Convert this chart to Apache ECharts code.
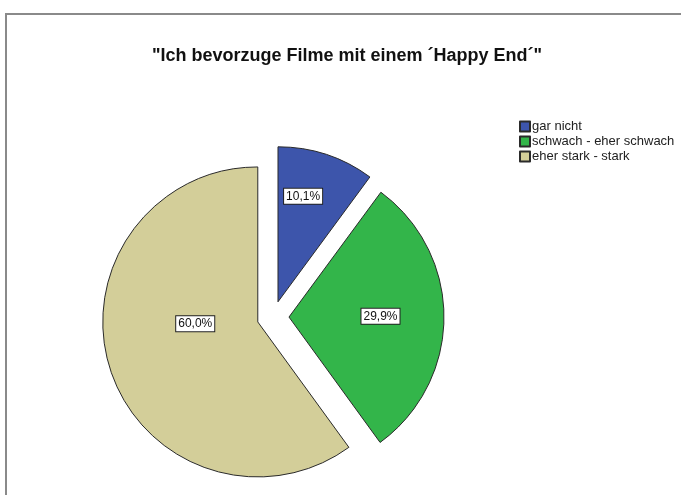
<!DOCTYPE html>
<html>
<head>
<meta charset="utf-8">
<script src="https://cdn.jsdelivr.net/npm/echarts@6/dist/echarts.min.js"></script>
<style>
  html, body { margin: 0; padding: 0; background: #fff; }
  #chart { width: 681px; height: 495px; }
</style>
</head>
<body>
<div id="chart"></div>
<script>
// Answer categories and their shares (percent)
const categories = ['gar nicht', 'schwach - eher schwach', 'eher stark - stark'];
const shares = [10.1, 29.9, 60.0];
const sliceColors = ['#3d55ab', '#33b54a', '#d3ce99'];

// Small nudges of the percentage boxes away from the default inside spot
const labelNudge = [[0, -29], [11, -1], [14, -23]];

const chart = echarts.init(document.getElementById('chart'));

const pieData = categories.map((name, i) => ({
  name: name,
  value: shares[i],
  selected: true,
  itemStyle: { color: sliceColors[i] }
}));

chart.setOption({
  animation: false,
  backgroundColor: '#ffffff',
  title: {
    text: '"Ich bevorzuge Filme mit einem \u00b4Happy End\u00b4"',
    left: 147,
    top: 42,
    textStyle: {
      fontFamily: 'Liberation Sans, Arial, sans-serif',
      fontSize: 18,
      fontWeight: 'bold',
      color: '#111'
    }
  },
  legend: {
    orient: 'vertical',
    left: 514,
    top: 115,
    itemWidth: 10,
    itemHeight: 10,
    itemGap: 2,
    icon: 'rect',
    selectedMode: false,
    textStyle: {
      fontFamily: 'Liberation Sans, Arial, sans-serif',
      fontSize: 13,
      color: '#222',
      padding: [0, 0, 0, -3]
    },
    data: categories
  },
  graphic: [{
    type: 'rect',
    shape: { x: 6, y: 14, width: 720, height: 520 },
    style: { fill: 'none', stroke: '#8a8a8a', lineWidth: 2 },
    silent: true
  }],
  series: [{
    type: 'pie',
    center: [273, 317],
    radius: [0, 155],
    startAngle: 90,
    clockwise: true,
    selectedMode: 'multiple',
    selectedOffset: 16,
    avoidLabelOverlap: false,
    itemStyle: { borderColor: '#2a2a2a', borderWidth: 1 },
    select: { itemStyle: { borderColor: '#2a2a2a', borderWidth: 1 } },
    emphasis: { disabled: true },
    label: {
      show: true,
      position: 'inside',
      formatter: p => p.value.toFixed(1).replace('.', ',') + '%',
      fontFamily: 'Liberation Sans, Arial, sans-serif',
      fontSize: 12,
      color: '#111',
      backgroundColor: '#ffffff',
      borderColor: '#222',
      borderWidth: 1,
      padding: [2, 2, 1, 2]
    },
    labelLine: { show: false },
    labelLayout: p => ({ dx: labelNudge[p.dataIndex][0], dy: labelNudge[p.dataIndex][1] }),
    data: pieData
  }]
});
</script>
</body>
</html>
